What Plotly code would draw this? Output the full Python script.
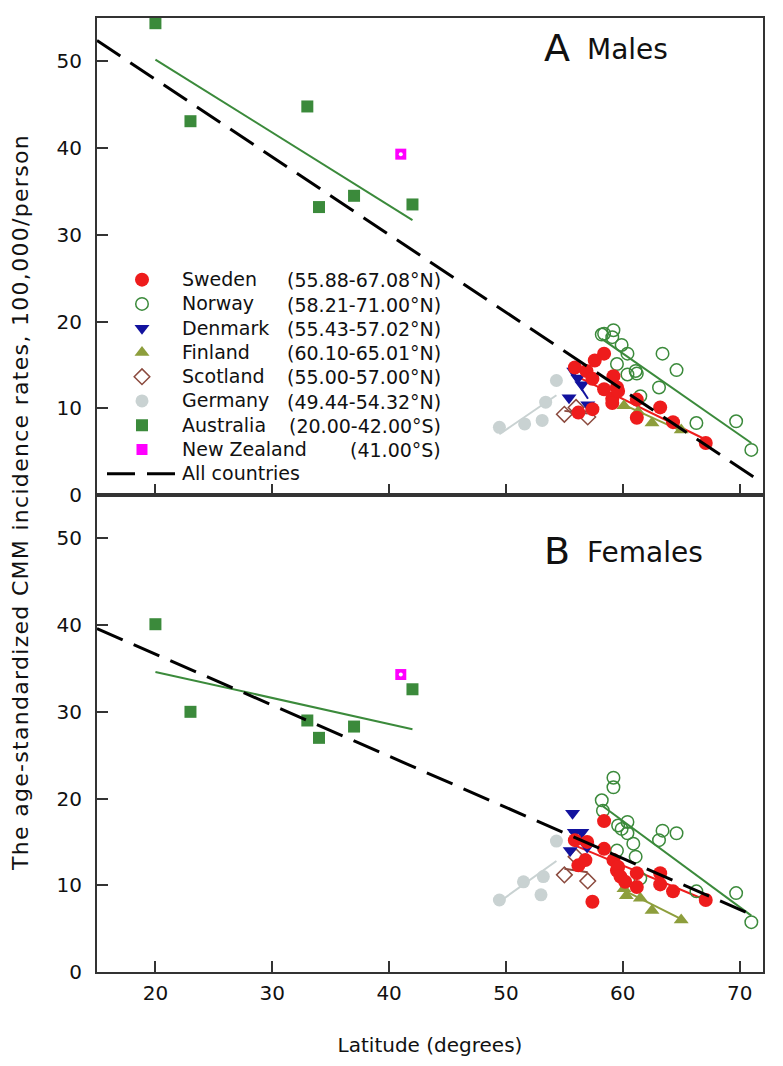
import plotly.graph_objects as go
from plotly.subplots import make_subplots

# ---------------- data ----------------
countries = ["Sweden", "Norway", "Denmark", "Finland", "Scotland", "Germany", "Australia", "New Zealand"]
ranges = ["(55.88-67.08°N)", "(58.21-71.00°N)", "(55.43-57.02°N)", "(60.10-65.01°N)",
          "(55.00-57.00°N)", "(49.44-54.32°N)", "(20.00-42.00°S)", "(41.00°S)"]

# Males
sw_m_lat = [55.9, 56.2, 56.9, 57.4, 57.4, 57.6, 58.4, 58.4, 59.1, 59.1, 59.2, 59.5, 59.6, 61.2, 61.2, 63.2, 64.3, 67.1]
sw_m_rate = [14.7, 9.5, 14.3, 13.4, 9.9, 15.5, 16.3, 12.2, 11.1, 10.6, 13.7, 12.4, 12.0, 11.0, 8.9, 10.1, 8.4, 6.0]
no_m_lat = [58.2, 58.4, 59.1, 59.2, 59.5, 59.9, 60.4, 60.4, 61.1, 61.2, 61.5, 63.1, 63.4, 64.6, 66.3, 69.7, 71.0]
no_m_rate = [18.5, 18.6, 18.2, 19.0, 15.1, 17.3, 16.3, 13.9, 14.3, 14.0, 11.4, 12.4, 16.3, 14.4, 8.3, 8.5, 5.2]
dk_m_lat = [55.4, 55.8, 56.15, 56.5, 57.0]
dk_m_rate = [11.2, 14.3, 13.5, 12.7, 10.4]
fi_m_lat = [60.1, 61.3, 62.5, 65.0]
fi_m_rate = [10.3, 9.6, 8.3, 7.5]
sc_m_lat = [55.0, 56.0, 57.0]
sc_m_rate = [9.3, 10.1, 9.0]
de_m_lat = [49.44, 51.6, 53.1, 53.4, 54.32]
de_m_rate = [7.8, 8.2, 8.6, 10.7, 13.2]
au_m_lat = [20, 23, 33, 34, 37, 42]
au_m_rate = [54.4, 43.1, 44.8, 33.2, 34.5, 33.5]
nz_m_lat = [41.0]
nz_m_rate = [39.3]

# Females
sw_f_lat = [55.9, 56.2, 56.8, 56.95, 57.4, 58.4, 58.4, 59.2, 59.5, 59.6, 59.8, 60.2, 61.2, 61.2, 63.2, 63.2, 64.3, 67.1]
sw_f_rate = [15.2, 12.3, 12.9, 15.0, 8.1, 17.4, 14.2, 12.9, 11.7, 12.1, 11.0, 10.4, 11.4, 9.8, 11.4, 10.1, 9.3, 8.3]
no_f_lat = [58.2, 58.3, 59.2, 59.2, 59.5, 59.6, 59.9, 60.4, 60.4, 60.9, 61.1, 61.5, 63.1, 63.4, 64.6, 66.3, 69.7, 71.0]
no_f_rate = [19.8, 18.6, 22.4, 21.3, 14.0, 16.9, 16.5, 17.3, 16.0, 14.8, 13.3, 10.8, 15.2, 16.3, 16.0, 9.3, 9.1, 5.75]
dk_f_lat = [55.5, 55.7, 55.85, 56.5, 56.95]
dk_f_rate = [14.0, 18.3, 16.1, 16.1, 14.4]
fi_f_lat = [60.1, 60.3, 61.5, 62.5, 65.0]
fi_f_rate = [9.6, 8.8, 8.5, 7.1, 6.0]
sc_f_lat = [55.0, 56.0, 57.0]
sc_f_rate = [11.2, 13.3, 10.5]
de_f_lat = [49.44, 51.5, 53.0, 53.2, 54.32]
de_f_rate = [8.3, 10.4, 8.9, 11.0, 15.1]
au_f_lat = [20, 23, 33, 34, 37, 42]
au_f_rate = [40.1, 30.0, 29.0, 27.0, 28.3, 32.6]
nz_f_lat = [41.0]
nz_f_rate = [34.3]

# Fitted lines (endpoints)
fit_m = {
    "Sweden": ([55.88, 67.08], [13.8, 6.4]),
    "Norway": ([58.21, 71.0], [18.0, 6.0]),
    "Denmark": ([55.43, 57.02], [14.4, 11.1]),
    "Finland": ([60.1, 65.01], [10.4, 7.4]),
    "Scotland": ([55.0, 57.0], [9.7, 9.4]),
    "Germany": ([49.44, 54.32], [7.0, 11.5]),
    "Australia": ([20.0, 42.0], [50.2, 31.7]),
}
fit_f = {
    "Sweden": ([55.88, 67.08], [14.6, 8.3]),
    "Norway": ([58.21, 71.0], [19.2, 6.5]),
    "Denmark": ([55.43, 57.02], [16.2, 15.0]),
    "Finland": ([60.1, 65.01], [9.4, 6.1]),
    "Scotland": ([55.0, 57.0], [11.9, 11.5]),
    "Germany": ([49.44, 54.32], [8.1, 12.8]),
    "Australia": ([20.0, 42.0], [34.6, 28.0]),
}
all_m_x = [15.0, 71.3]
all_m_y = [52.4, 2.0]
all_f_x = [15.0, 71.2]
all_f_y = [39.6, 6.5]

# ---------------- styles ----------------
FONT = "DejaVu Sans"
TXT = "#111111"
colors = {
    "Sweden": "#ee1c1c", "Norway": "#3b8a3b", "Denmark": "#12129e", "Finland": "#8d9e3c",
    "Scotland": "#8b4a3e", "Germany": "#c9d2d2", "Australia": "#3b8a3b", "New Zealand": "#ff00ff",
}
symbols = {
    "Sweden": "circle", "Norway": "circle-open", "Denmark": "triangle-down", "Finland": "triangle-up",
    "Scotland": "diamond-open", "Germany": "circle", "Australia": "square", "New Zealand": "square",
}
sizes = {"Sweden": 14, "Norway": 12.5, "Denmark": 13, "Finland": 13, "Scotland": 12,
         "Germany": 13, "Australia": 12, "New Zealand": 11}

data_m = {
    "Sweden": (sw_m_lat, sw_m_rate), "Norway": (no_m_lat, no_m_rate), "Denmark": (dk_m_lat, dk_m_rate),
    "Finland": (fi_m_lat, fi_m_rate), "Scotland": (sc_m_lat, sc_m_rate), "Germany": (de_m_lat, de_m_rate),
    "Australia": (au_m_lat, au_m_rate), "New Zealand": (nz_m_lat, nz_m_rate),
}
data_f = {
    "Sweden": (sw_f_lat, sw_f_rate), "Norway": (no_f_lat, no_f_rate), "Denmark": (dk_f_lat, dk_f_rate),
    "Finland": (fi_f_lat, fi_f_rate), "Scotland": (sc_f_lat, sc_f_rate), "Germany": (de_f_lat, de_f_rate),
    "Australia": (au_f_lat, au_f_rate), "New Zealand": (nz_f_lat, nz_f_rate),
}

LEG_FS = 19


def leg_name(s):
    return '<span style="font-size:%dpx">%s</span>' % (LEG_FS, s)


fig = make_subplots(rows=2, cols=1, shared_xaxes=True, vertical_spacing=0)


def marker_for(c):
    m = dict(symbol=symbols[c], color=colors[c], size=sizes[c])
    if c in ("Norway", "Scotland"):
        m["line"] = dict(color=colors[c], width=1.5)
    else:
        m["line"] = dict(width=0)
    return m


draw_order = ["Germany", "Scotland", "Denmark", "Norway", "Finland", "Sweden", "Australia", "New Zealand"]

for row, data, fits, ax, ay in [(1, data_m, fit_m, all_m_x, all_m_y), (2, data_f, fit_f, all_f_x, all_f_y)]:
    for c, (fx, fy) in fits.items():
        fig.add_trace(go.Scatter(x=fx, y=fy, mode="lines", line=dict(color=colors[c], width=2),
                                 showlegend=False, hoverinfo="skip"), row=row, col=1)
    for c in draw_order:
        x, y = data[c]
        fig.add_trace(go.Scatter(x=x, y=y, mode="markers", name=leg_name(c), marker=marker_for(c),
                                 legendrank=countries.index(c) + 1,
                                 showlegend=(row == 1)), row=row, col=1)
        if c == "New Zealand":
            fig.add_trace(go.Scatter(x=x, y=y, mode="markers", showlegend=False, hoverinfo="skip",
                                     marker=dict(symbol="circle", color="white", size=4, line=dict(width=0))),
                          row=row, col=1)
    fig.add_trace(go.Scatter(x=ax, y=ay, mode="lines", name=leg_name("All countries"), legendrank=20,
                             line=dict(color="black", width=3, dash="28px,12px"),
                             showlegend=(row == 1)), row=row, col=1)

axis_common = dict(showline=True, linecolor="#333333", linewidth=2, mirror=True,
                   ticks="inside", ticklen=11, tickwidth=1.5, tickcolor="#333333",
                   showgrid=False, zeroline=False,
                   tickfont=dict(family=FONT, size=20, color=TXT))

fig.update_xaxes(range=[15, 72], tickvals=[20, 30, 40, 50, 60, 70], **axis_common)
fig.update_xaxes(showticklabels=False, row=1, col=1)
fig.update_xaxes(title=dict(text="Latitude (degrees)", font=dict(family=FONT, size=20, color=TXT),
                            standoff=34), ticklabelstandoff=2, row=2, col=1)
fig.update_yaxes(range=[0, 55], tickvals=[0, 10, 20, 30, 40, 50], ticklabelstandoff=9, **axis_common)

# The page body adds an 8px offset; the figure is sized so the plot lands where the reference has it.
fig.update_layout(
    width=775, height=1058,
    margin=dict(l=89, r=20, t=8, b=94),
    plot_bgcolor="white", paper_bgcolor="white",
    font=dict(family=FONT, color=TXT),
    showlegend=True,
    legend=dict(x=0.0075, y=0.7437, xanchor="left", yanchor="top",
                bgcolor="rgba(0,0,0,0)", itemwidth=70, traceorder="normal",
                font=dict(family=FONT, size=16.35, color=TXT), tracegroupgap=0),
)


def py2paper(py):
    return (972 - py) / 956


def px2paper(px):
    return (px - 97) / 666


# range annotations aligned with legend rows
row0 = 279.0
for i, r in enumerate(ranges):
    fig.add_annotation(text=r, xref="paper", yref="paper", x=px2paper(443), y=py2paper(row0 + 24.3 * i),
                       xanchor="right", yanchor="middle", showarrow=False,
                       font=dict(family=FONT, size=LEG_FS, color=TXT))

# panel labels
for letter, word, py in [("A", "Males", 46), ("B", "Females", 550)]:
    fig.add_annotation(text=letter, xref="paper", yref="paper", x=px2paper(572), y=py2paper(py),
                       xanchor="right", yanchor="middle", showarrow=False,
                       font=dict(family=FONT, size=38, color=TXT))
    fig.add_annotation(text=word, xref="paper", yref="paper", x=px2paper(585), y=py2paper(py + 2),
                       xanchor="left", yanchor="middle", showarrow=False,
                       font=dict(family=FONT, size=28, color=TXT))

# y-axis title spanning both panels
fig.add_annotation(text='<span style="letter-spacing:1.3px">The age-standardized CMM incidence rates, 100,000/person</span>',
                   xref="paper", yref="paper", x=px2paper(21), y=py2paper(502), textangle=-90,
                   xanchor="center", yanchor="middle", showarrow=False,
                   font=dict(family=FONT, size=22, color=TXT))

fig.write_html("out.html")
